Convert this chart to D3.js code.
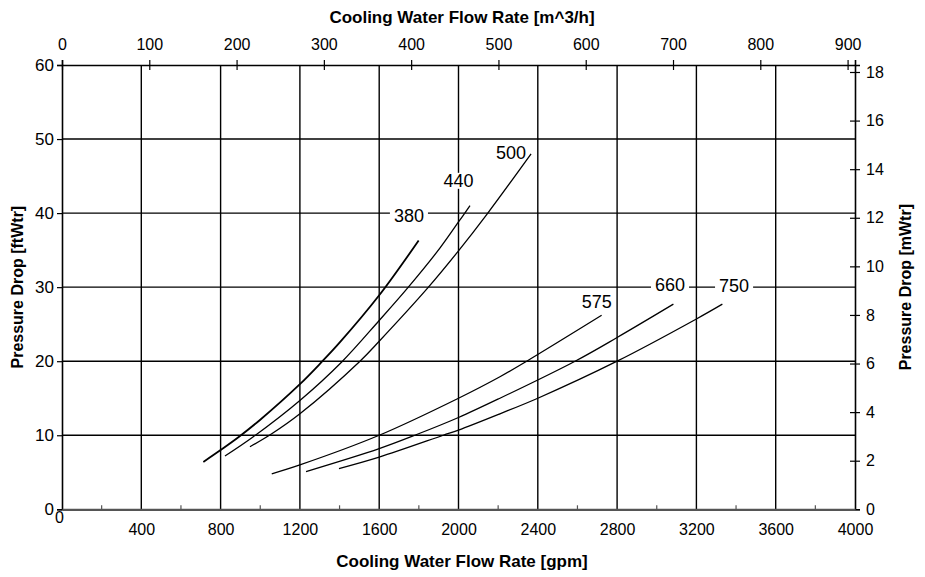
<!DOCTYPE html>
<html>
<head>
<meta charset="utf-8">
<script src="https://cdn.jsdelivr.net/npm/d3@7"></script>
<style>
  body { margin: 0; background: #fff; }
  text { font-family: "Liberation Sans", Arial, sans-serif; fill: #000; }
</style>
</head>
<body>
<div id="graphic"></div>
<script>
// Tick values for the four axes
var gpmTicks = [0, 400, 800, 1200, 1600, 2000, 2400, 2800, 3200, 3600, 4000];
var gpmMinor = [200, 600, 1000, 1400, 1800, 2200, 2600, 3000, 3400, 3800];
var m3hTicks = [0, 100, 200, 300, 400, 500, 600, 700, 800, 900];
var ftTicks = [0, 10, 20, 30, 40, 50, 60];
var mTicks = [0, 2, 4, 6, 8, 10, 12, 14, 16, 18];

// Curves: [flow gpm, pressure drop ftWtr]
var curveNames = ["380", "440", "500", "575", "660", "750"];
var flow380 = [[713, 6.4], [800, 8.0], [893, 9.8], [1000, 12.1], [1200, 16.9], [1310, 19.9], [1400, 22.5], [1600, 28.9], [1799, 36.3]];
var flow440 = [[822, 7.2], [965, 9.8], [1200, 14.7], [1411, 19.9], [1600, 25.5], [1747, 30], [1907, 35.3], [2000, 38.8], [2058, 41.0]];
var flow500 = [[948, 8.45], [1058, 10.2], [1200, 12.9], [1503, 20], [1600, 22.7], [1845, 29.9], [2000, 34.9], [2145, 39.9], [2366, 48.0]];
var flow575 = [[1058, 4.8], [1200, 6.0], [1600, 10.0], [2000, 15.0], [2209, 17.9], [2344, 20.0], [2722, 26.2]];
var flow660 = [[1231, 5.1], [1600, 8.2], [1789, 10.1], [2000, 12.4], [2209, 15.0], [2588, 20], [2800, 23.2], [3084, 27.7]];
var flow750 = [[1397, 5.5], [1600, 7.05], [1923, 10], [2000, 10.7], [2209, 12.9], [2400, 15.0], [2800, 20.0], [3200, 25.7], [3331, 27.7]];
var curveData = [flow380, flow440, flow500, flow575, flow660, flow750];
// where each curve's name sits, in [gpm, ftWtr]
var labelAt = [[1750, 39.6], [2000, 44.4], [2265, 48.2], [2697, 28.0], [3067, 30.3], [3390, 30.2]];

var GPM_PER_M3H = 4.4029;
var FT_PER_M = 3.28084;

var svgWidth = 925, svgHeight = 577;
var plotL = 62, plotR = 855, plotT = 65, plotB = 509.3;

var svg = d3.select("#graphic").append("svg")
    .attr("width", svgWidth)
    .attr("height", svgHeight);

var x = d3.scaleLinear().domain([0, 4000]).range([plotL, plotR]);
var y = d3.scaleLinear().domain([0, 60]).range([plotB, plotT]);
var xTop = d3.scaleLinear().domain([0, 4000 / GPM_PER_M3H]).range([plotL, plotR]);
var yRight = d3.scaleLinear().domain([0, 60 / FT_PER_M]).range([plotB, plotT]);

// grid
var grid = svg.append("g");
grid.selectAll("line.v")
    .data(gpmTicks.slice(1, -1))
    .enter().append("line")
    .attr("x1", d => x(d)).attr("x2", d => x(d))
    .attr("y1", plotT).attr("y2", plotB)
    .attr("stroke", "#000").attr("stroke-width", 1.4);
grid.selectAll("line.h")
    .data(ftTicks.slice(1, -1))
    .enter().append("line")
    .attr("x1", plotL).attr("x2", plotR)
    .attr("y1", d => y(d)).attr("y2", d => y(d))
    .attr("stroke", "#000").attr("stroke-width", 1.4);

// curve names with white boxes to cut the grid (under the curves)
var labels = svg.append("g").selectAll("g")
    .data(curveNames)
    .enter().append("g")
    .attr("transform", (d, i) => "translate(" + x(labelAt[i][0]) + "," + y(labelAt[i][1]) + ")");
labels.append("rect");
labels.append("text")
    .attr("text-anchor", "middle")
    .attr("dy", "0.35em")
    .style("font-size", "18px")
    .text(d => d);
labels.each(function() {
    var g = d3.select(this);
    var b = g.select("text").node().getBBox();
    g.select("rect")
        .attr("x", b.x - 4).attr("y", b.y + 2)
        .attr("width", b.width + 8).attr("height", b.height - 4)
        .attr("fill", "#fff");
});

// curves
var line = d3.line()
    .x(d => x(d[0]))
    .y(d => y(d[1]))
    .curve(d3.curveCatmullRom.alpha(0.5));

svg.append("g").selectAll("path")
    .data(curveData)
    .enter().append("path")
    .attr("d", line)
    .attr("fill", "none")
    .attr("stroke", "#000")
    .attr("stroke-width", (d, i) => i == 0 ? 1.8 : 1.3);

// axes
var axisLeft = svg.append("g")
    .attr("transform", "translate(" + plotL + ",0)")
    .call(d3.axisLeft(y).tickValues(ftTicks).tickSize(5).tickPadding(3));

var axisRight = svg.append("g")
    .attr("transform", "translate(" + plotR + ",0)")
    .call(d3.axisRight(yRight).tickValues(mTicks).tickSize(5).tickPadding(6).tickFormat(d3.format("d")));
axisRight.selectAll(".tick line").attr("x1", -5);

var axisTop = svg.append("g")
    .attr("transform", "translate(0," + plotT + ")")
    .call(d3.axisTop(xTop).tickValues(m3hTicks).tickSize(5).tickPadding(10).tickFormat(d3.format("d")));
axisTop.selectAll(".tick line").attr("y1", 5);

var axisBottom = svg.append("g")
    .attr("transform", "translate(0," + plotB + ")")
    .call(d3.axisBottom(x).tickValues(gpmTicks).tickSize(0).tickPadding(14).tickFormat(d3.format("d")));
axisBottom.selectAll(".tick text")
    .attr("dy", (d) => d == 0 ? "-0.05em" : "0.71em")
    .attr("x", (d) => d == 0 ? -3 : 0);
axisBottom.select(".domain").attr("stroke", "#555").attr("stroke-width", 2.2);

svg.append("g").selectAll("line")
    .data(gpmMinor)
    .enter().append("line")
    .attr("x1", d => x(d)).attr("x2", d => x(d))
    .attr("y1", plotB).attr("y2", plotB - 4)
    .attr("stroke", "#555").attr("stroke-width", 1.2);

[axisLeft, axisRight, axisTop].forEach(function(a) {
    a.select(".domain").attr("stroke", "#000").attr("stroke-width", 1.6);
    a.selectAll(".tick line").attr("stroke", "#000").attr("stroke-width", 1.2);
});
[axisLeft, axisRight, axisTop, axisBottom].forEach(function(a) {
    a.selectAll(".tick text")
        .style("font-size", "16px")
        .style("font-family", "'Liberation Sans', Arial, sans-serif");
});
axisLeft.selectAll(".tick text").style("font-size", "17px");

// axis titles
svg.append("text")
    .attr("x", 462).attr("y", 23)
    .attr("text-anchor", "middle")
    .style("font-size", "17px").style("font-weight", "bold")
    .text("Cooling Water Flow Rate [m^3/h]");
svg.append("text")
    .attr("x", 462).attr("y", 567)
    .attr("text-anchor", "middle")
    .style("font-size", "17px").style("font-weight", "bold")
    .text("Cooling Water Flow Rate [gpm]");
svg.append("text")
    .attr("transform", "translate(23," + ((plotT + plotB) / 2) + ") rotate(-90)")
    .attr("text-anchor", "middle")
    .style("font-size", "16px").style("font-weight", "bold")
    .text("Pressure Drop [ftWtr]");
svg.append("text")
    .attr("transform", "translate(911," + ((plotT + plotB) / 2) + ") rotate(-90)")
    .attr("text-anchor", "middle")
    .style("font-size", "16px").style("font-weight", "bold")
    .text("Pressure Drop [mWtr]");
</script>
</body>
</html>
